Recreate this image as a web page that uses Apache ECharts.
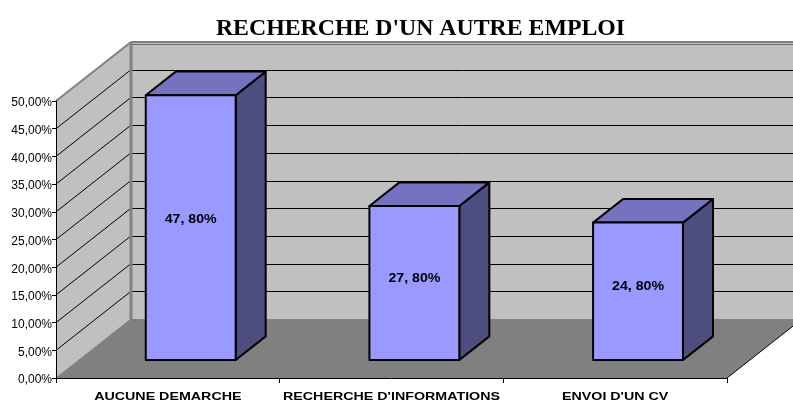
<!DOCTYPE html>
<html><head><meta charset="utf-8">
<style>html,body{margin:0;padding:0;background:#fff}#c{width:793px;height:403px}</style>
<script src="https://cdn.jsdelivr.net/npm/echarts@6/dist/echarts.min.js"></script>
</head><body><div id="c"></div>
<script>
var title = "RECHERCHE D'UN AUTRE EMPLOI";
var categories = ["AUCUNE DEMARCHE", "RECHERCHE D'INFORMATIONS", "ENVOI D'UN CV"];
var values = [47.8, 27.8, 24.8];
var ticks = [0, 5, 10, 15, 20, 25, 30, 35, 40, 45, 50];

var DX = 75, DY = -59;
var BAR_W = 0.402, BAR_START = 0.305, BAR_DEPTH = 0.4;
var chart = echarts.init(document.getElementById('c'), null, {renderer: 'canvas'});
function pct(v, sep) { return v.toFixed(2).replace('.', sep) + '%'; }
function poly(points, fill, stroke, lw) {
  return {type: 'polygon', shape: {points: points}, style: {fill: fill, stroke: stroke || null, lineWidth: lw || 0, lineJoin: 'round'}};
}
function line(a, b, stroke, lw) {
  return {type: 'line', shape: {x1: a[0], y1: a[1], x2: b[0], y2: b[1]}, style: {stroke: stroke, lineWidth: lw, fill: null}};
}
function wideText(x, y, str, size, sx) {
  return {type: 'text', x: x, y: y, scaleX: sx, style: {x: 0, y: 0, text: str, fill: '#000',
    font: 'bold ' + size + 'px "Liberation Sans", Arial, sans-serif', align: 'center', verticalAlign: 'middle'}};
}
function roomItem(params, api) {
  var band = api.size([1, 0])[0];
  var o = api.coord([0, 0]), t = api.coord([0, 50]);
  var x0 = o[0] - band / 2, x1 = x0 + band * categories.length, y0 = o[1], y1 = t[1];
  return {type: 'group', children: [
    poly([[x0, y0], [x0 + DX, y0 + DY], [x0 + DX, y1 + DY], [x0, y1]], '#c0c0c0'),
    poly([[x0 + DX, y0 + DY], [x1 + DX, y0 + DY], [x1 + DX, y1 + DY], [x0 + DX, y1 + DY]], '#c0c0c0'),
    poly([[x0, y0], [x1, y0], [x1 + DX, y0 + DY], [x0 + DX, y0 + DY]], '#808080')
  ]};
}
function gridItem(params, api) {
  var band = api.size([1, 0])[0];
  var p = api.coord([0, api.value(0)]);
  var x0 = p[0] - band / 2, x1 = x0 + band * categories.length, y = p[1];
  var v = api.value(0), col = (v === 50) ? '#6a6a6a' : '#000';
  if (v === 0) return {type: 'group', children: []};
  var yb = Math.round(y + DY + (v === 50 ? 1.5 : 0)) + 0.5;
  return {type: 'group', children: [
    line([x0, y], [x0 + DX, y + DY], v === 50 ? '#808080' : '#000', v === 50 ? 2 : 1),
    line([x0 + DX, yb], [x1 + DX, yb], col, 1)
  ]};
}
function edgeItem(params, api) {
  var band = api.size([1, 0])[0];
  var o = api.coord([0, 0]), t = api.coord([0, 50]);
  var x0 = o[0] - band / 2, x1 = x0 + band * categories.length;
  return {type: 'group', children: [
    line([x0 + DX, o[1] + DY], [x0 + DX, t[1] + DY], '#808080', 3),
    line([x0 + DX, t[1] + DY], [x1 + DX, t[1] + DY], '#808080', 2),
    line([x0, o[1]], [x0 + DX, o[1] + DY], '#808080', 1),
    line([x1, o[1]], [x1 + DX, o[1] + DY], '#000', 1)
  ]};
}
function barItem(params, api) {
  var i = api.value(0), v = api.value(1);
  var band = api.size([1, 0])[0];
  var c0 = api.coord([i, 0]), cv = api.coord([i, v]);
  var sx = DX * BAR_START, sy = DY * BAR_START;
  var dx = DX * BAR_DEPTH, dy = DY * BAR_DEPTH;
  var w = band * BAR_W;
  var l = c0[0] - w / 2 + sx, r = l + w, b = c0[1] + sy, t = cv[1] + sy;
  var K = '#000', LW = 2;
  return {type: 'group', children: [
    poly([[r, b], [r + dx, b + dy], [r + dx, t + dy], [r, t]], '#4d4d80', K, LW),
    poly([[l, t], [r, t], [r + dx, t + dy], [l + dx, t + dy]], '#7373bf', K, LW),
    poly([[l, b], [r, b], [r, t], [l, t]], '#9999ff', K, LW),
    wideText((l + r) / 2, b + (t - b) * 0.53, pct(v, ', '), 12, 1.18)
  ]};
}
function catLabelItem(params, api) {
  var i = api.value(0), c = api.coord([i, 0]);
  return wideText(c[0], c[1] + 19, categories[i], 11.5, 1.24);
}
chart.setOption({
  animation: false,
  backgroundColor: '#fff',
  title: {text: title, left: 415.5, top: 12, textAlign: 'center',
    textStyle: {fontFamily: '"Liberation Serif", serif', fontWeight: 'bold', fontSize: 23.8, color: '#000'}},
  grid: {left: 56, right: 66, top: 101, bottom: 25},
  xAxis: {type: 'category', data: categories, z: 10,
    axisLine: {lineStyle: {color: '#000', width: 1}},
    axisTick: {show: true, interval: 0, length: 5, lineStyle: {color: '#000'}},
    axisLabel: {show: false, interval: 0}},
  yAxis: {type: 'value', min: 0, max: 50, interval: 5, z: 10,
    axisLine: {show: true, lineStyle: {color: '#000', width: 1}},
    axisTick: {show: true, length: 4, lineStyle: {color: '#000'}},
    splitLine: {show: false},
    axisLabel: {color: '#000', fontFamily: '"Liberation Sans", Arial, sans-serif', fontSize: 12, margin: 4, verticalAlign: 'top', lineHeight: 4,
      formatter: function (v) { return pct(v, ','); }}},
  series: [
    {type: 'custom', silent: true, z: 1, clip: false, renderItem: roomItem, data: [[0]], encode: {x: -1, y: -1}},
    {type: 'custom', silent: true, z: 2, clip: false, renderItem: gridItem, data: ticks.map(function (t) { return [t]; }), encode: {x: -1, y: 0}},
    {type: 'custom', silent: true, z: 3, clip: false, renderItem: edgeItem, data: [[0]], encode: {x: -1, y: -1}},
    {type: 'custom', silent: true, z: 4, clip: false, renderItem: barItem, data: values.map(function (v, i) { return [i, v]; }), encode: {x: 0, y: 1}},
    {type: 'custom', silent: true, z: 5, clip: false, renderItem: catLabelItem, data: categories.map(function (c, i) { return [i]; }), encode: {x: 0, y: -1}}
  ]
});
</script></body></html>
